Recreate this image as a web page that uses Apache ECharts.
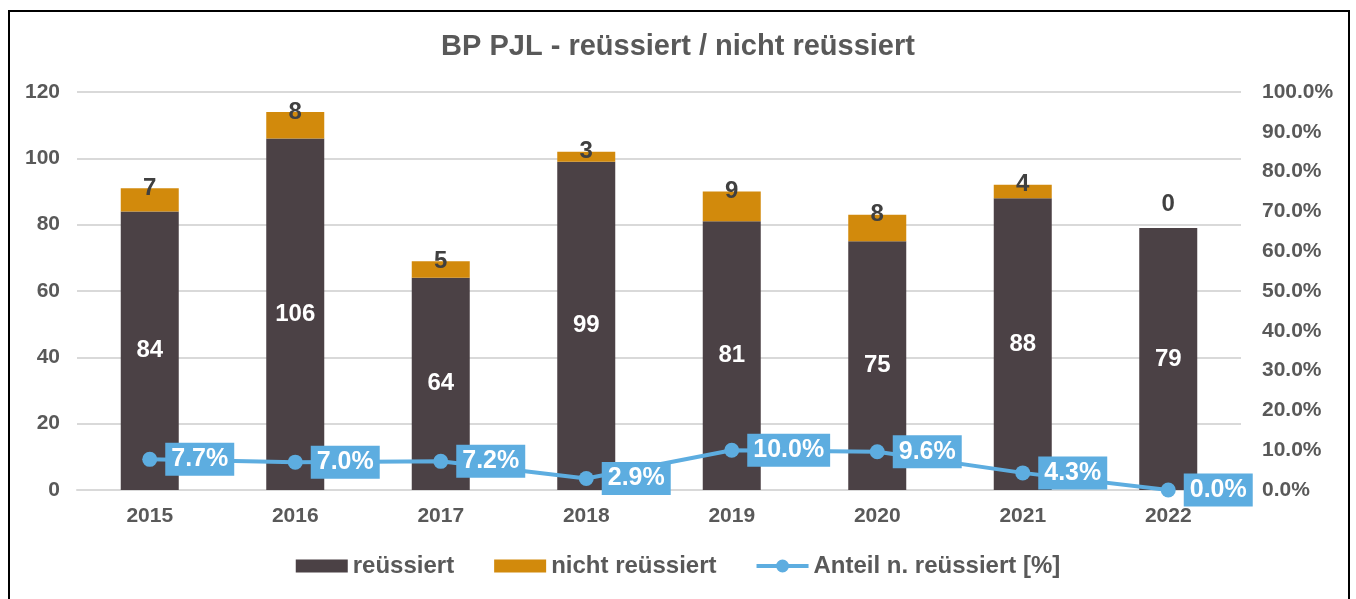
<!DOCTYPE html>
<html>
<head>
<meta charset="utf-8">
<script src="https://cdn.jsdelivr.net/npm/echarts@6/dist/echarts.min.js"></script>
<style>
  html, body { margin: 0; padding: 0; background: #fff; }
  #frame { position: absolute; left: 8px; top: 10px; width: 1342px; height: 600px; border: 2px solid #000; box-sizing: border-box; }
  #chart { position: absolute; left: 0; top: 0; width: 1356px; height: 599px; }
</style>
</head>
<body>
<div id="frame"></div>
<div id="chart"></div>
<script>
const years = ['2015', '2016', '2017', '2018', '2019', '2020', '2021', '2022']
const success = [84, 106, 64, 99, 81, 75, 88, 79]
const failed = [7, 8, 5, 3, 9, 8, 4, 0]
const failedShare = [7.7, 7.0, 7.2, 2.9, 10.0, 9.6, 4.3, 0.0]
const leftTicks = [0, 20, 40, 60, 80, 100, 120]

const grey = '#595959'
const font = 'Liberation Sans, Arial, sans-serif'

// line + dot legend icon, like in Excel (line split in two so the dot stays filled)
const lineIcon = 'path://M0,5H20V9H0Z M32,5H52V9H32Z M19.5,7a6.5,6.5 0 1,1 13,0a6.5,6.5 0 1,1 -13,0Z'

let myChart = echarts.init(document.getElementById('chart'))

// orange label for 2022 sits higher above the bar in the original
let failedData = failed.map((v, i) => {
  if (v === 0) return { value: v, label: { distance: 12 } }
  return v
})

myChart.setOption({
  animation: false,
  textStyle: { fontFamily: font },
  title: {
    text: 'BP PJL - reüssiert / nicht reüssiert',
    left: 'center',
    top: 27,
    textStyle: { fontSize: 29, fontWeight: 'bold', color: grey, fontFamily: font }
  },
  legend: {
    top: 549,
    left: 'center',
    itemGap: 40,
    itemWidth: 52,
    itemHeight: 13,
    textStyle: { fontSize: 24, fontWeight: 'bold', color: grey, fontFamily: font },
    data: [
      { name: 'reüssiert', icon: 'rect' },
      { name: 'nicht reüssiert', icon: 'rect' },
      { name: 'Anteil n. reüssiert [%]', icon: lineIcon }
    ]
  },
  grid: { left: 77, right: 115, top: 92, bottom: 109 },
  xAxis: {
    type: 'category',
    data: years,
    axisLine: { lineStyle: { color: '#d9d9d9', width: 2 } },
    axisTick: { show: false },
    axisLabel: { fontSize: 21, fontWeight: 'bold', color: grey, margin: 16 }
  },
  yAxis: [
    {
      type: 'value',
      min: leftTicks[0],
      max: leftTicks[leftTicks.length - 1],
      interval: 20,
      axisLine: { show: false },
      axisTick: { show: false },
      axisLabel: { fontSize: 21, fontWeight: 'bold', color: grey, margin: 17 },
      splitLine: { lineStyle: { color: '#d9d9d9', width: 2 } }
    },
    {
      type: 'value',
      min: 0,
      max: 100,
      interval: 10,
      axisLine: { show: false },
      axisTick: { show: false },
      splitLine: { show: false },
      axisLabel: {
        fontSize: 21, fontWeight: 'bold', color: grey, margin: 21,
        formatter: v => v.toFixed(1) + '%'
      }
    }
  ],
  series: [
    {
      name: 'reüssiert',
      type: 'bar',
      stack: 'total',
      barWidth: 58,
      data: success,
      itemStyle: { color: '#4b4145' },
      label: { show: true, position: 'inside', color: '#fff', fontSize: 24, fontWeight: 'bold' }
    },
    {
      name: 'nicht reüssiert',
      type: 'bar',
      stack: 'total',
      barWidth: 58,
      data: failedData,
      itemStyle: { color: '#d28a0c' },
      label: { show: true, position: 'top', distance: -12, color: '#404040', fontSize: 24, fontWeight: 'bold' }
    },
    {
      name: 'Anteil n. reüssiert [%]',
      type: 'line',
      yAxisIndex: 1,
      data: failedShare,
      symbol: 'circle',
      symbolSize: 15,
      z: 5,
      lineStyle: { color: '#5dade0', width: 4 },
      itemStyle: { color: '#5dade0' },
      label: {
        show: true,
        position: 'right',
        distance: 8,
        formatter: p => p.value.toFixed(1) + '%',
        color: '#fff',
        fontSize: 25,
        fontWeight: 'bold',
        backgroundColor: '#5dade0',
        padding: [5, 6, 3, 6]
      }
    }
  ]
})
</script>
</body>
</html>
